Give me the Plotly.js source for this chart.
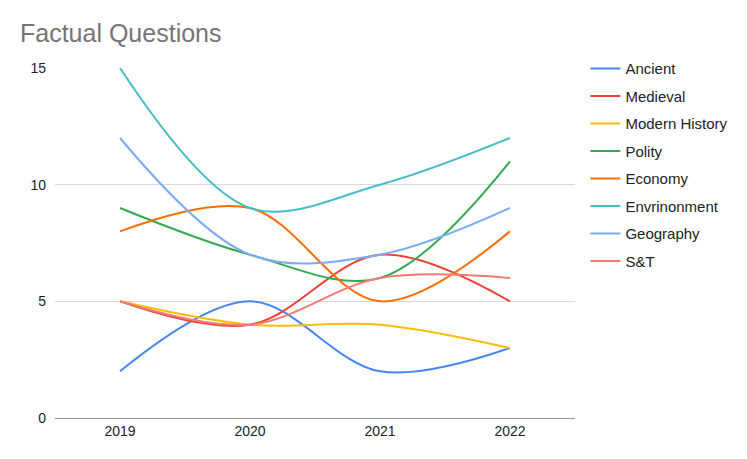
<!DOCTYPE html>
<html><head><meta charset="utf-8">
<script src="https://cdn.plot.ly/plotly-3.0.1.min.js"></script>
<style>body{margin:0;background:#fff}#c{width:747px;height:459px}</style>
</head><body><div id="c"></div>
<script>
const years = ["2019", "2020", "2021", "2022"];
const seriesNames = ["Ancient", "Medieval", "Modern History", "Polity", "Economy", "Envrinonment", "Geography", "S&T"];
const ancient = [2, 5, 2, 3];
const medieval = [5, 4, 7, 5];
const modernHistory = [5, 4, 4, 3];
const polity = [9, 7, 6, 11];
const economy = [8, 9, 5, 8];
const envrinonment = [15, 9, 10, 12];
const geography = [12, 7, 7, 9];
const sAndT = [5, 4, 6, 6];
const colors = ["#4285F4", "#EA4335", "#FBBC04", "#34A853", "#FF6D01", "#46BDC6", "#7BAAF7", "#F07B72"];
const values = [ancient, medieval, modernHistory, polity, economy, envrinonment, geography, sAndT];

const traces = values.map((v, i) => ({
  x: years, y: v, type: "scatter", mode: "lines", name: seriesNames[i],
  legendgroup: "g" + i,
  line: {color: colors[i], width: 2, shape: "spline", smoothing: 1},
  hoverinfo: "skip"
}));

const layout = {
  width: 747, height: 459,
  margin: {l: 55, r: 172, t: 68, b: 41},
  paper_bgcolor: "#fff", plot_bgcolor: "#fff",
  font: {family: "Liberation Sans, Arial, sans-serif", size: 14, color: "#222"},
  title: {text: "Factual Questions", x: 0, xref: "paper", xanchor: "left", y: 0.928, yref: "container", yanchor: "middle",
          font: {size: 25, color: "#757575"}, pad: {l: -35}},
  xaxis: {type: "category", range: [-0.5, 3.5], showgrid: false, zeroline: false,
          showline: true, linecolor: "#999", linewidth: 1, ticks: "",
          tickfont: {size: 14, color: "#222"}},
  yaxis: {range: [0, 15], tickvals: [0, 5, 10, 15], showgrid: true, gridcolor: "#d9d9d9",
          zeroline: false, showline: false, ticks: "", tickfont: {size: 14, color: "#222"}, ticklabelstandoff: 8},
  showlegend: true,
  legend: {x: 1.02, xanchor: "left", y: 1.045, yanchor: "top", tracegroupgap: 5,
           font: {size: 15, color: "#222"}, itemwidth: 30}
};
Plotly.newPlot("c", traces, layout, {staticPlot: true});
</script></body></html>
